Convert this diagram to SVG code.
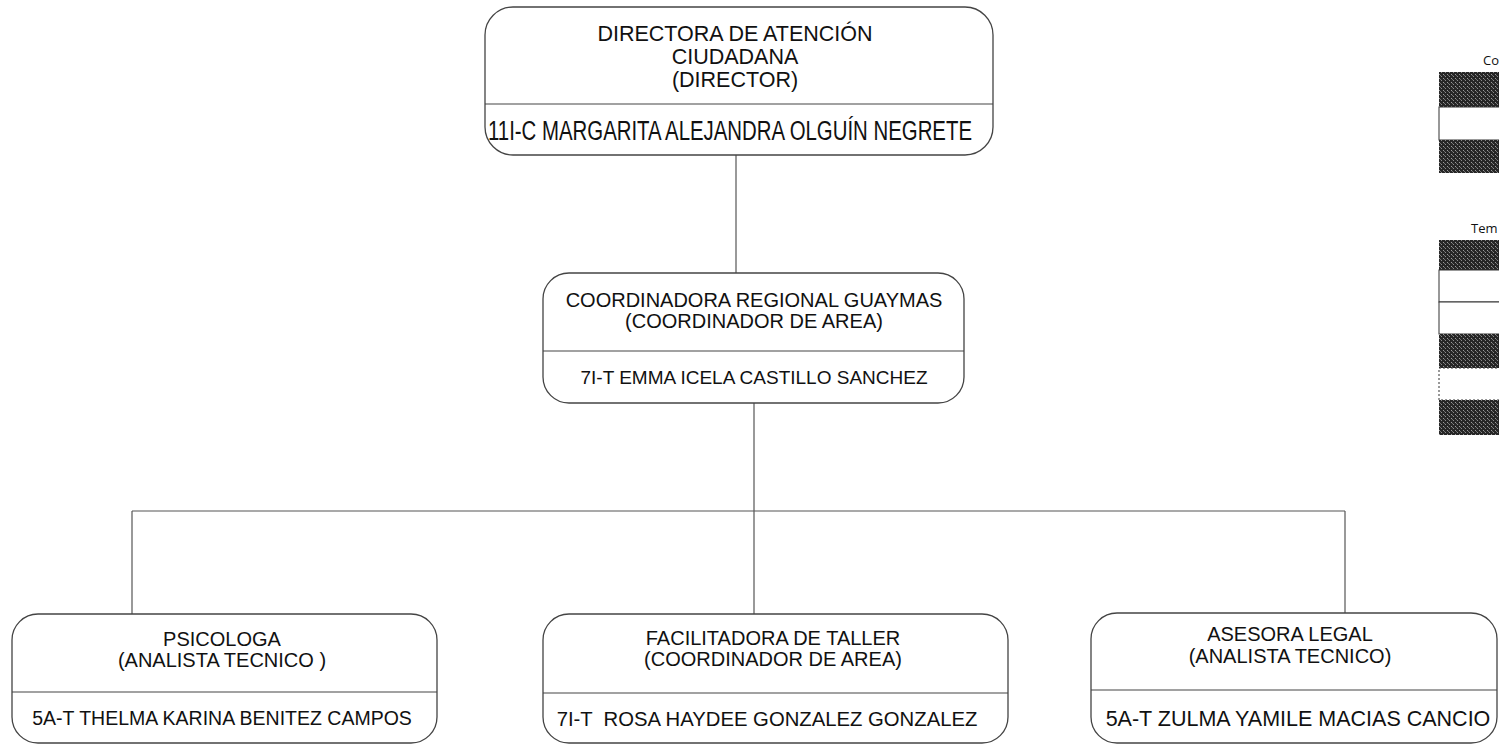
<svg xmlns="http://www.w3.org/2000/svg" width="1499" height="746" viewBox="0 0 1499 746">
<defs>
<pattern id="speckle" width="4" height="4" patternUnits="userSpaceOnUse">
<rect width="4" height="4" fill="#262626"/>
<rect x="1" y="0" width="1" height="1" fill="#8a8a8a"/>
<rect x="3" y="2" width="1" height="1" fill="#9a9a9a"/>
<rect x="0" y="3" width="1" height="1" fill="#6e6e6e"/>
</pattern>
</defs>
<style>
.box{fill:#fff;stroke:#444;stroke-width:1.3}
.div{stroke:#444;stroke-width:1.2}
.t{font-family:"Liberation Sans",Arial,sans-serif;font-size:20px;fill:#111;text-anchor:middle}
.big{font-size:21.5px}
.nm{font-size:19.5px}
.n{font-family:"Liberation Sans Narrow","Liberation Sans",Arial,sans-serif;font-size:27px;fill:#111}
.conn{stroke:#555;stroke-width:1.2;fill:none}
.dark{fill:url(#speckle)}
.lw{fill:#fff;stroke:#333;stroke-width:1}
.lt{font-family:"Open Sans","Liberation Sans",sans-serif;font-size:13px;fill:#111}
</style>
<rect width="1499" height="746" fill="#fff"/>
<g id="connectors">
<path class="conn" d="M736 155V273"/>
<path class="conn" d="M754 403V614"/>
<path class="conn" d="M132 511H1345"/>
<path class="conn" d="M132 511V614"/>
<path class="conn" d="M1345 511V613"/>
</g>
<g id="director">
<rect class="box" x="485" y="7" width="508" height="148" rx="28"/>
<line class="div" x1="485" y1="104" x2="993" y2="104"/>
<text class="t big" x="735" y="41">DIRECTORA DE ATENCIÓN</text>
<text class="t big" x="735" y="64">CIUDADANA</text>
<text class="t big" x="735" y="87">(DIRECTOR)</text>
<text class="n" x="488" y="140" textLength="484" lengthAdjust="spacingAndGlyphs">11I-C MARGARITA ALEJANDRA OLGUÍN NEGRETE</text>
</g>
<g id="coordinadora">
<rect class="box" x="543" y="273" width="421" height="130" rx="26"/>
<line class="div" x1="543" y1="351" x2="964" y2="351"/>
<text class="t" x="754" y="307">COORDINADORA REGIONAL GUAYMAS</text>
<text class="t" x="754" y="328">(COORDINADOR DE AREA)</text>
<text class="t" x="754" y="384" style="font-size:19px">7I-T EMMA ICELA CASTILLO SANCHEZ</text>
</g>
<g id="psicologa">
<rect class="box" x="12" y="614" width="425" height="129" rx="26"/>
<line class="div" x1="12" y1="692" x2="437" y2="692"/>
<text class="t" x="222" y="646">PSICOLOGA</text>
<text class="t" x="222" y="667">(ANALISTA TECNICO )</text>
<text class="t nm" x="222" y="725">5A-T THELMA KARINA BENITEZ CAMPOS</text>
</g>
<g id="facilitadora">
<rect class="box" x="543" y="614" width="465" height="129" rx="26"/>
<line class="div" x1="543" y1="693" x2="1008" y2="693"/>
<text class="t" x="773" y="645">FACILITADORA DE TALLER</text>
<text class="t" x="773" y="666">(COORDINADOR DE AREA)</text>
<text class="t" x="767" y="726" style="font-size:20.3px" xml:space="preserve">7I-T  ROSA HAYDEE GONZALEZ GONZALEZ</text>
</g>
<g id="asesora">
<rect class="box" x="1091" y="613" width="406" height="130" rx="26"/>
<line class="div" x1="1091" y1="690" x2="1497" y2="690"/>
<text class="t" x="1290" y="641">ASESORA LEGAL</text>
<text class="t" x="1290" y="663">(ANALISTA TECNICO)</text>
<text class="t" x="1298" y="726" style="font-size:21.5px">5A-T ZULMA YAMILE MACIAS CANCIO</text>
</g>
<g id="legend">
<text class="lt" x="1483" y="65">Co</text>
<rect class="dark" x="1439" y="72" width="62" height="35"/>
<rect class="lw" x="1439" y="107" width="62" height="33"/>
<rect class="dark" x="1439" y="140" width="62" height="33"/>
<text class="lt" x="1471" y="233">Tem</text>
<rect class="dark" x="1439" y="240" width="62" height="30"/>
<rect class="lw" x="1439" y="270" width="62" height="32"/>
<rect class="lw" x="1439" y="302" width="62" height="32"/>
<rect class="dark" x="1439" y="334" width="62" height="34"/>
<rect class="lw" x="1439" y="368" width="62" height="32" stroke-dasharray="2 2"/>
<rect class="dark" x="1439" y="400" width="62" height="35"/>
</g>
</svg>
